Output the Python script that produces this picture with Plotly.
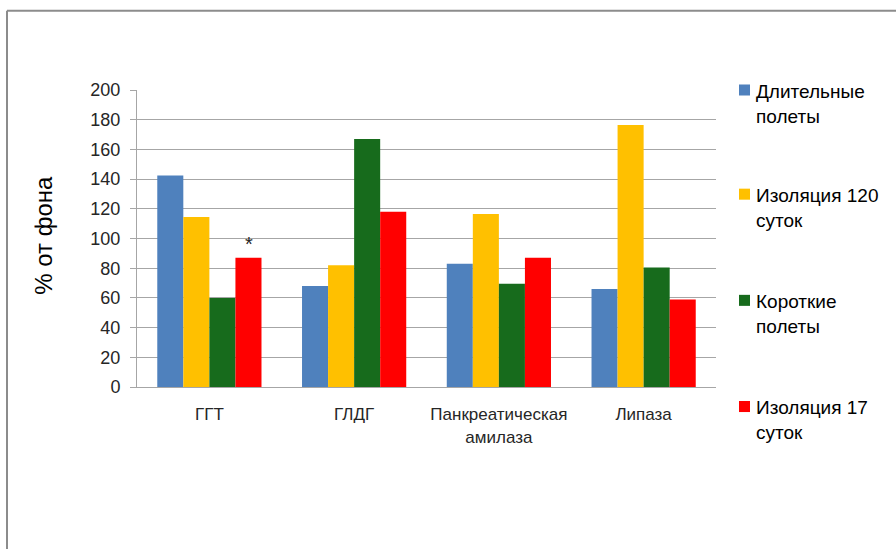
import plotly.graph_objects as go

categories = ["ГГТ", "ГЛДГ", "Панкреатическая<br>амилаза", "Липаза"]
series_names = ["Длительные<br>полеты", "Изоляция 120<br>суток", "Короткие<br>полеты", "Изоляция 17<br>суток"]
long_flights = [142.5, 68, 83, 66]
isolation_120 = [114.5, 82, 116.5, 176.5]
short_flights = [60, 167, 69.5, 80.5]
isolation_17 = [87, 118, 87, 59]
colors = ["#4F81BD", "#FFC000", "#176B1C", "#FF0000"]
y_ticks = list(range(0, 201, 20))

FONT = "Liberation Sans"
TXT = "#262626"

fig = go.Figure()
for name, vals, col in zip(series_names, [long_flights, isolation_120, short_flights, isolation_17], colors):
    fig.add_trace(go.Bar(x=categories, y=vals, name=name, marker=dict(color=col, line=dict(width=0)),
                         showlegend=False))

# significance mark over the red bar of the first group
fig.add_annotation(x=categories[0], y=isolation_17[0], xshift=40, yshift=1, text="*",
                   showarrow=False, yanchor="bottom", font=dict(family=FONT, size=20, color=TXT))

# y-axis title
L, W, H = 137, 579, 296.5
def px(p):
    return (p - L) / W
def py(p):
    return (387 - p) / H

fig.add_annotation(xref="paper", yref="paper", x=px(44), y=py(236), text="% от фона", textangle=-90,
                   showarrow=False, xanchor="center", yanchor="middle",
                   font=dict(family=FONT, size=24, color="#000000"))

# legend drawn beside the plot
legend_y = [104, 208, 314, 420]
for name, col, yc in zip(series_names, colors, legend_y):
    fig.add_shape(type="rect", xref="paper", yref="paper", x0=px(739), x1=px(750),
                  y0=py(yc - 19), y1=py(yc - 8), fillcolor=col, line=dict(width=0))
    fig.add_annotation(xref="paper", yref="paper", x=px(754), y=py(yc), text=name, showarrow=False,
                       xanchor="left", yanchor="middle", align="left",
                       font=dict(family=FONT, size=19, color="#000000"))

# outer frame (top and left edges visible)
fig.add_shape(type="line", xref="paper", yref="paper", x0=px(7), x1=px(900), y0=py(11.5), y1=py(11.5),
              line=dict(color="#8C8C8C", width=2))
fig.add_shape(type="line", xref="paper", yref="paper", x0=px(7), x1=px(7), y0=py(11.5), y1=py(552),
              line=dict(color="#8C8C8C", width=2))

fig.update_layout(
    width=896, height=549,
    margin=dict(l=137, r=180, t=90, b=162),
    paper_bgcolor="white", plot_bgcolor="white",
    barmode="group", bargap=0.28, bargroupgap=0,
    font=dict(family=FONT, size=16, color=TXT),
)
fig.update_xaxes(showline=True, linecolor="#A6A6A6", linewidth=1, showgrid=False,
                 tickfont=dict(family=FONT, size=17, color=TXT), ticks="", ticklabelstandoff=12)
fig.update_yaxes(range=[0, 200], tickvals=y_ticks, showgrid=True, gridcolor="#A6A6A6", gridwidth=1,
                 showline=True, linecolor="#A6A6A6", linewidth=1, ticks="outside", ticklen=6,
                 tickcolor="#A6A6A6", tickfont=dict(family=FONT, size=18, color=TXT),
                 ticklabelstandoff=6, zeroline=False)

fig.write_html("out.html")
